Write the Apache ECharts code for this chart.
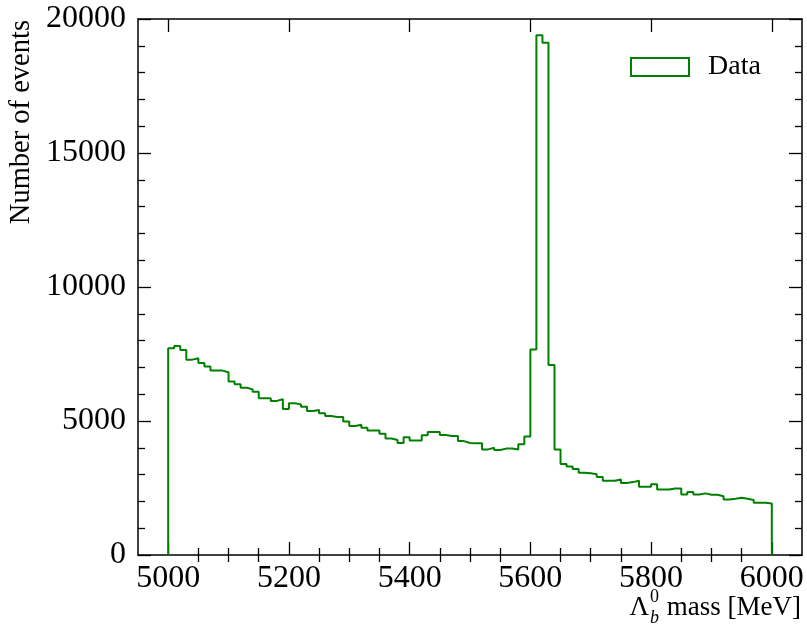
<!DOCTYPE html>
<html>
<head>
<meta charset="utf-8">
<script src="https://cdn.jsdelivr.net/npm/echarts@6/dist/echarts.min.js"></script>
<style>html,body{margin:0;padding:0;background:#fff}#c{width:807px;height:637px}</style>
</head>
<body>
<div id="c"></div>
<script>
// Histogram: Lambda_b^0 mass, 10 MeV bins from 5000 to 6000 MeV
const binLow = 5000;
const binWidth = 10;
const counts = [
  7710, 7800, 7650, 7290, 7340, 7160, 7030, 6880, 6880, 6820,
  6470, 6370, 6240, 6180, 6090, 5850, 5850, 5750, 5810, 5450,
  5660, 5620, 5530, 5370, 5410, 5290, 5190, 5150, 5150, 4980,
  4810, 4860, 4750, 4650, 4650, 4520, 4350, 4290, 4180, 4390,
  4270, 4270, 4470, 4590, 4590, 4480, 4440, 4440, 4250, 4180,
  4170, 4170, 3940, 4000, 3920, 3970, 3970, 3940, 4130, 4420,
  7670, 19390, 19110, 7090, 3940, 3400, 3300, 3210, 3070, 3050,
  3010, 2910, 2770, 2770, 2820, 2690, 2720, 2770, 2550, 2550,
  2640, 2440, 2440, 2480, 2480, 2260, 2350, 2260, 2300, 2250,
  2250, 2190, 2070, 2100, 2140, 2100, 2050, 1950, 1950, 1920
];
const xMajorTicks = [5000, 5200, 5400, 5600, 5800, 6000];
const xMinorTicks = [5050, 5100, 5150, 5250, 5300, 5350, 5450, 5500, 5550, 5650, 5700, 5750, 5850, 5900, 5950];
const yTicks = [0, 5000, 10000, 15000, 20000];
const seriesName = 'Data';
const xTitle = ' mass [MeV]';
const yTitle = 'Number of events';

const FONT = '"Liberation Serif", "DejaVu Serif", serif';
const GREEN = '#008000';
const xMin = 4950, xMax = 6050;

// step path points (bin edges)
const pts = [[binLow, 0]];
counts.forEach((v, i) => pts.push([binLow + (i + 1) * binWidth, v]));
pts.push([binLow + counts.length * binWidth, 0]);

// measure title pieces for right-aligned composed x title
const mctx = document.createElement('canvas').getContext('2d');
function tw(t, size, style) { mctx.font = (style || '') + ' ' + size + 'px "Liberation Serif"'; return mctx.measureText(t).width; }
const TSZ = 27, SSZ = 18, xTitleRight = 801, xTitleY = 608;
const wRest = tw(xTitle, TSZ);
const wScript = Math.max(tw('0', SSZ), tw('b', SSZ, 'italic'));
const wLam = tw('Λ', TSZ);
const restX = xTitleRight - wRest;
const scriptX = restX - wScript - 1;
const lamX = scriptX - wLam - 1;

const axLine = {show: true, onZero: false, lineStyle: {color: '#000', width: 1.5}};
const tickStyle = {color: '#000', width: 1.3};
const plain = v => String(v);

const chart = echarts.init(document.getElementById('c'), null, {renderer: 'canvas'});
const grid = {left: 138, right: 5, top: 19, bottom: 82, containLabel: false};
chart.setOption({
  animation: false,
  grid: [Object.assign({}, grid), Object.assign({}, grid)],
  legend: {
    left: 630, top: 53, padding: 0,
    itemWidth: 58, itemHeight: 18,
    data: [{name: seriesName, icon: 'rect',
      itemStyle: {color: 'rgba(0,0,0,0)', borderColor: GREEN, borderWidth: 2}}],
    textStyle: {fontFamily: FONT, fontSize: 28, color: '#000', padding: [0, 0, 0, 14]}
  },
  xAxis: [
    {gridIndex: 0, type: 'value', position: 'bottom', min: xMin, max: xMax,
      axisLine: axLine,
      axisTick: {show: true, inside: true, length: 13, customValues: xMajorTicks, lineStyle: tickStyle},
      axisLabel: {show: true, customValues: xMajorTicks, margin: 8, fontFamily: FONT, fontSize: 32, color: '#000',
        formatter: plain, alignMinLabel: 'center', alignMaxLabel: 'center', hideOverlap: false},
      splitLine: {show: false}},
    {gridIndex: 0, type: 'value', position: 'top', min: xMin, max: xMax,
      axisLine: axLine,
      axisTick: {show: true, inside: true, length: 13, customValues: xMajorTicks, lineStyle: tickStyle},
      axisLabel: {show: false}, splitLine: {show: false}},
    {gridIndex: 1, type: 'value', position: 'bottom', min: xMin, max: xMax,
      axisLine: {show: false},
      axisTick: {show: true, inside: true, length: 7, customValues: xMinorTicks, lineStyle: tickStyle},
      axisLabel: {show: false}, splitLine: {show: false}},
    {gridIndex: 1, type: 'value', position: 'top', min: xMin, max: xMax,
      axisLine: {show: false},
      axisTick: {show: true, inside: true, length: 7, customValues: xMinorTicks, lineStyle: tickStyle},
      axisLabel: {show: false}, splitLine: {show: false}}
  ],
  yAxis: [
    {gridIndex: 0, type: 'value', position: 'left', min: yTicks[0], max: yTicks[yTicks.length - 1], interval: 5000,
      axisLine: axLine,
      axisTick: {show: true, inside: true, length: 13, lineStyle: tickStyle},
      minorTick: {show: true, splitNumber: 5, length: 7, lineStyle: tickStyle},
      axisLabel: {show: true, margin: 12, fontFamily: FONT, fontSize: 32, color: '#000', formatter: plain},
      splitLine: {show: false}, minorSplitLine: {show: false}},
    {gridIndex: 0, type: 'value', position: 'right', min: yTicks[0], max: yTicks[yTicks.length - 1], interval: 5000,
      axisLine: axLine,
      axisTick: {show: true, inside: true, length: 13, lineStyle: tickStyle},
      minorTick: {show: true, splitNumber: 5, length: 7, lineStyle: tickStyle},
      axisLabel: {show: false},
      splitLine: {show: false}, minorSplitLine: {show: false}},
    {gridIndex: 1, type: 'value', position: 'left', min: 0, max: 20000, show: false},
    {gridIndex: 1, type: 'value', position: 'right', min: 0, max: 20000, show: false}
  ],
  series: [{
    name: seriesName, type: 'line', xAxisIndex: 0, yAxisIndex: 0,
    step: 'start', showSymbol: false, symbol: 'none',
    lineStyle: {color: GREEN, width: 2}, itemStyle: {color: GREEN},
    data: pts
  }],
  graphic: [
    {type: 'text', x: 22, y: 20, rotation: Math.PI / 2,
      style: {text: yTitle, fontFamily: FONT, fontSize: 28.5, fill: '#000', textAlign: 'right', textVerticalAlign: 'middle'}},
    {type: 'text', x: lamX, y: xTitleY,
      style: {text: 'Λ', fontFamily: FONT, fontSize: TSZ, fill: '#000', textAlign: 'left', textVerticalAlign: 'middle'}},
    {type: 'text', x: scriptX, y: xTitleY - 11,
      style: {text: '0', fontFamily: FONT, fontSize: SSZ, fill: '#000', textAlign: 'left', textVerticalAlign: 'middle'}},
    {type: 'text', x: scriptX, y: xTitleY + 10,
      style: {text: 'b', fontFamily: FONT, fontSize: SSZ, fontStyle: 'italic', fill: '#000', textAlign: 'left', textVerticalAlign: 'middle'}},
    {type: 'text', x: restX, y: xTitleY,
      style: {text: xTitle, fontFamily: FONT, fontSize: TSZ, fill: '#000', textAlign: 'left', textVerticalAlign: 'middle'}}
  ]
});
</script>
</body>
</html>
